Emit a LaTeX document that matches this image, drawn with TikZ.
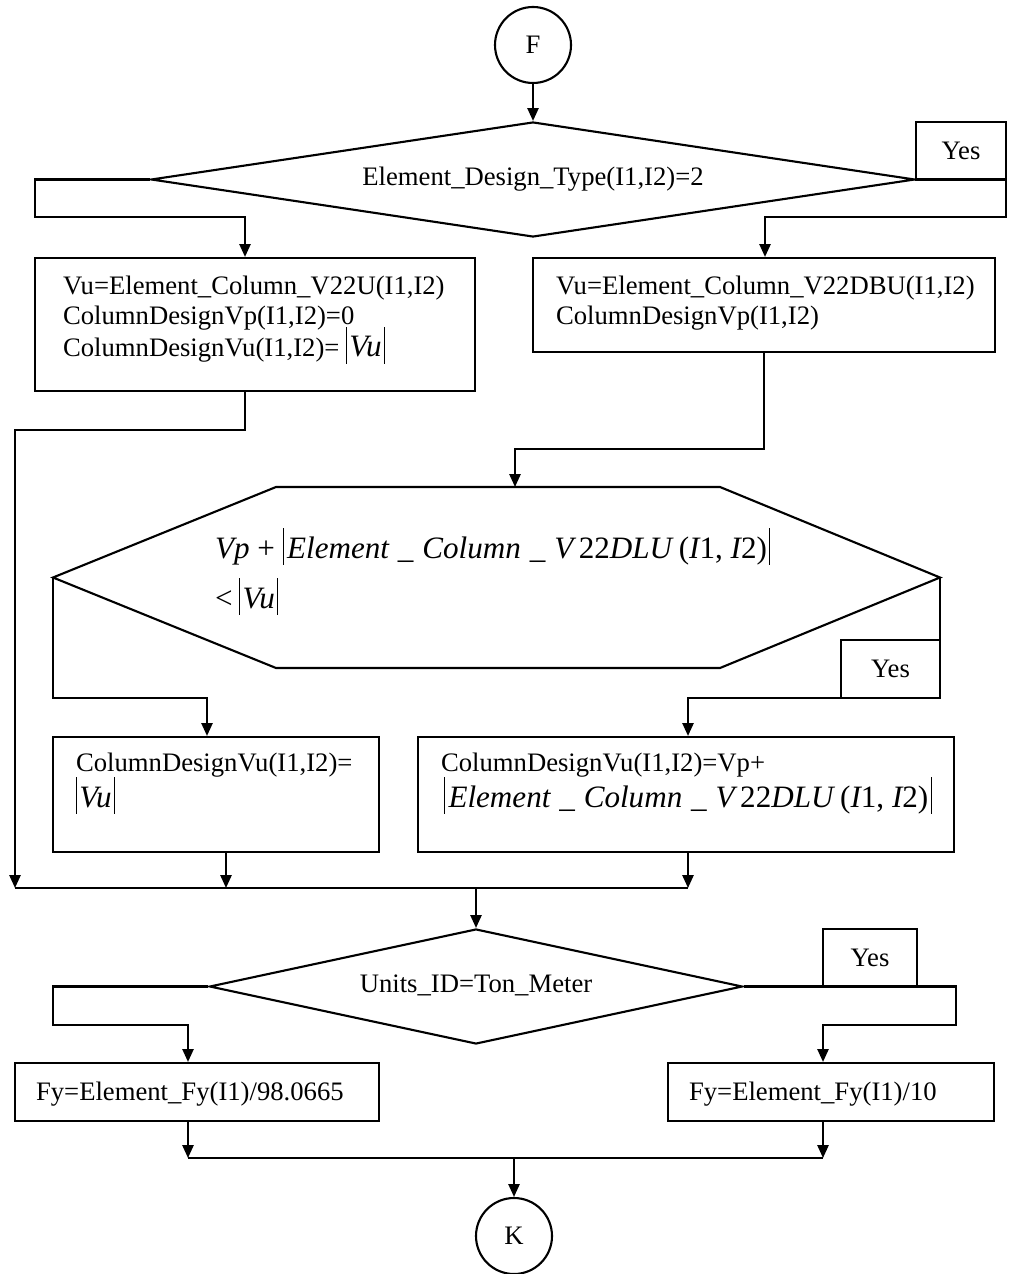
\documentclass[tikz,border=0pt]{standalone}
\usepackage{fontspec}
\setmainfont{Liberation Serif}
\usetikzlibrary{shapes.geometric,arrows.meta,fit}
\newcommand{\mbar}{\rule[-3pt]{0.5pt}{16.5pt}}
\newcommand{\mth}{\fontsize{14}{17}\selectfont\itshape}
\newcommand{\usc}{\hspace{4pt}\_\hspace{4pt}}
\newcommand{\up}[1]{{\upshape #1}}
\begin{document}
\begin{tikzpicture}[x=0.45pt,y=-0.45pt,line width=0.95pt,
  arr/.style={-{Triangle[length=5.8pt,width=5pt]}},
  box/.style={draw,inner sep=0pt},
  txt/.style={inner sep=0pt,anchor=base west,font=\fontsize{12}{14}\selectfont},
  conn/.style={draw,circle,inner sep=0pt,minimum size=34.2pt,font=\fontsize{12}{14}\selectfont},
  dec/.style={draw,diamond,inner sep=0pt,font=\fontsize{12}{14}\selectfont}]
\useasboundingbox (0,0) rectangle (1008,1274);

% start connector and first decision
\node[conn] (F) at (533,45) {F};
\node[dec,shape aspect=6.64,minimum width=343.8pt,minimum height=51.75pt] (D1) at (533,179.5) {Element\_Design\_Type(I1,I2)=2};
\node[box,fit={(916,122) (1006,180)}] (Y1) {};
\node[txt,anchor=center] (Y1t) at (Y1.center) {Yes};

% first row boxes
\node[box,fit={(35,258) (475,391)}] (b1) {};
\node[txt] (b1a) at (62,295) {Vu=Element\_Column\_V22U(I1,I2)};
\node[txt] (b1b) at (62,325) {ColumnDesignVp(I1,I2)=0};
\node[txt] (b1c) at (62,357) {ColumnDesignVu(I1,I2)= {\mth\mbar\hspace{1pt}Vu\hspace{1pt}\mbar}};

\node[box,fit={(533,258) (995,352)}] (b2) {};
\node[txt] (b2a) at (555,295) {Vu=Element\_Column\_V22DBU(I1,I2)};
\node[txt] (b2b) at (555,325) {ColumnDesignVp(I1,I2)};

% hexagon decision
\coordinate (hW) at (53,577.5);
\coordinate (hT1) at (276,487);
\coordinate (hT2) at (720,487);
\coordinate (hE) at (940,577.5);
\coordinate (hB2) at (720,668);
\coordinate (hB1) at (276,668);
\draw (hW) -- (hT1) -- (hT2) -- (hE) -- (hB2) -- (hB1) -- cycle;
\node[txt] (h1) at (214,558) {\mth Vp\hspace{3.5pt}\up{+}\hspace{3.5pt}\mbar\hspace{1.5pt}Element\usc Column\usc V\hspace{2.5pt}\up{22}DLU\hspace{3pt}\up{(}I\up{1,}\hspace{3.5pt}I\up{2)}\hspace{1pt}\mbar};
\node[txt] (h2) at (214,608) {\mth \up{<}\hspace{3pt}\mbar\hspace{1pt}Vu\hspace{1pt}\mbar};
\node[box,fit={(841,640) (940,698)}] (Y2) {};
\node[txt,anchor=center] (Y2t) at (Y2.center) {Yes};

% second row boxes
\node[box,fit={(53,737) (379,852)}] (b3) {};
\node[txt] (b3a) at (75,771) {ColumnDesignVu(I1,I2)=};
\node[txt] (b3b) at (75,807) {\mth\mbar\hspace{1pt}Vu\hspace{1pt}\mbar};

\node[box,fit={(418,737) (954,852)}] (b4) {};
\node[txt] (b4a) at (440,771) {ColumnDesignVu(I1,I2)=Vp+};
\node[txt] (b4b) at (443,807) {\mth\mbar\hspace{1.5pt}Element\usc Column\usc V\hspace{2.5pt}\up{22}DLU\hspace{3pt}\up{(}I\up{1,}\hspace{3.5pt}I\up{2)}\hspace{1pt}\mbar};

% merge
\coordinate (mL) at (15,888);
\coordinate (mR) at (688,888);
\coordinate (mC) at (476,888);

% second decision
\node[dec,shape aspect=4.63,minimum width=239.85pt,minimum height=51.75pt] (D2) at (476,986.5) {\raisebox{3pt}{Units\_ID=Ton\_Meter}};
\node[box,fit={(823,929) (917,987)}] (Y3) {};
\node[txt,anchor=center] (Y3t) at (Y3.center) {Yes};

\node[box,fit={(15,1063) (379,1121)}] (b5) {};
\node[txt] (b5a) at (35,1100) {Fy=Element\_Fy(I1)/98.0665};
\node[box,fit={(668,1063) (994,1121)}] (b6) {};
\node[txt] (b6a) at (688,1100) {Fy=Element\_Fy(I1)/10};

\coordinate (nL) at (188,1158);
\coordinate (nR) at (823,1158);
\coordinate (nC) at (514,1158);
\node[conn] (K) at (514,1236) {K};

% connectors
\draw[arr] (F) -- (D1);
\draw[arr] (D1.west) -| (35,217) -- (245,217) -- (245,217 |- b1.north);
\draw[arr] (D1.east) -| (1006,217) -- (765,217) -- (765,217 |- b2.north);
\draw[arr] (245,0 |- b1.south) |- (15,430) -- (mL);
\draw[arr] (b2.south) |- (515,449) -- (515,449 |- hT1);
\draw[arr] (hW) |- (207,698) -- (207,698 |- b3.north);
\draw[arr] (hE) |- (688,698) -- (688,698 |- b4.north);
\draw[arr] (226,0 |- b3.south) -- (226,0 |- mL);
\draw[arr] (688,0 |- b4.south) -- (mR);
\draw (mL) -- (mR);
\draw[arr] (mC) -- (D2);
\draw[arr] (D2.west) -| (53,1025) -- (188,1025) -- (188,0 |- b5.north);
\draw[arr] (D2.east) -| (956,1025) -- (823,1025) -- (823,0 |- b6.north);
\draw[arr] (188,0 |- b5.south) -- (nL);
\draw[arr] (823,0 |- b6.south) -- (nR);
\draw (nL) -- (nR);
\draw[arr] (nC) -- (K);
\end{tikzpicture}
\end{document}
